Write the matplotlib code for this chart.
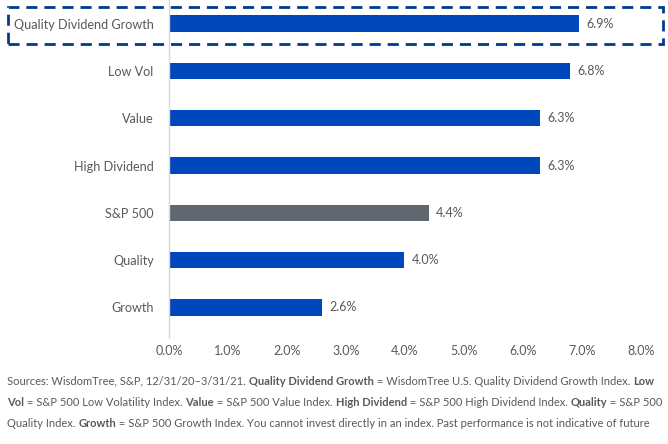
import matplotlib
matplotlib.use("Agg")
import matplotlib.pyplot as plt
from matplotlib.patches import Rectangle

categories = ["Quality Dividend Growth", "Low Vol", "Value", "High Dividend", "S&P 500", "Quality", "Growth"]
values = [6.95, 6.80, 6.29, 6.29, 4.40, 3.99, 2.59]
value_labels = ["6.9%", "6.8%", "6.3%", "6.3%", "4.4%", "4.0%", "2.6%"]
x_ticks = [0, 1, 2, 3, 4, 5, 6, 7, 8]
x_tick_labels = ["0.0%", "1.0%", "2.0%", "3.0%", "4.0%", "5.0%", "6.0%", "7.0%", "8.0%"]

BLUE = "#0047BB"
GREY_BAR = "#5F6870"
TXT = "#595959"
FONT = "Lato"

W, H = 668, 444
fig = plt.figure(figsize=(W / 100, H / 100), dpi=100)
ax = fig.add_axes([169 / W, 1 - 331 / H, (641 - 169) / W, 331 / H])

colors = [GREY_BAR if c == "S&P 500" else BLUE for c in categories]
ypos = list(range(len(categories)))
ax.barh(ypos, values, height=0.35, color=colors)
ax.set_ylim(len(categories) - 0.5, -0.5)
ax.set_xlim(0, 8)
ax.set_yticks(ypos)
ax.set_yticklabels(categories, fontsize=9.1, color=TXT, family=FONT)
ax.set_xticks(x_ticks)
ax.set_xticklabels(x_tick_labels, fontsize=9, color=TXT, family=FONT)
ax.tick_params(axis="both", length=0)
ax.tick_params(axis="y", pad=11)
ax.tick_params(axis="x", pad=10)
for s in ["top", "right", "bottom"]:
    ax.spines[s].set_visible(False)
ax.spines["left"].set_color("#D9D9D9")
ax.spines["left"].set_linewidth(1)
ax.spines["left"].set_bounds(len(categories) - 0.5 + 0.15, -0.5 - 0.5)

for y, v, lab in zip(ypos, values, value_labels):
    ax.text(v + 0.13, y, lab, va="center", ha="left", fontsize=9, color=TXT, family=FONT)

# dashed highlight box
rect = Rectangle((8 / W, 1 - 44 / H), (663 - 8) / W, 37 / H, transform=fig.transFigure,
                 fill=False, edgecolor="#003A8C", linewidth=2, linestyle=(0, (4, 2.5)),
                 clip_on=False)
fig.patches.append(rect)

# footnote with bold runs
lines = [
    [("Sources: WisdomTree, S&P, 12/31/20\u20133/31/21. ", False), ("Quality Dividend Growth", True),
     (" = WisdomTree U.S. Quality Dividend Growth Index. ", False), ("Low", True)],
    [("Vol", True), (" = S&P 500 Low Volatility Index. ", False), ("Value", True),
     (" = S&P 500 Value Index. ", False), ("High Dividend", True), (" = S&P 500 High Dividend Index. ", False),
     ("Quality", True), (" = S&P 500", False)],
    [("Quality Index. ", False), ("Growth", True),
     (" = S&P 500 Growth Index. You cannot invest directly in an index. Past performance is not indicative of future", False)],
]
line_y = [381, 402, 423]
fig.canvas.draw()
renderer = fig.canvas.get_renderer()
for runs, yy in zip(lines, line_y):
    x = 7
    for txt, bold in runs:
        t = fig.text(x / W, 1 - yy / H, txt, fontsize=8.05, color=TXT, family=FONT,
                     fontweight="bold" if bold else "normal", va="center", ha="left")
        bb = t.get_window_extent(renderer=renderer)
        x += bb.width

fig.savefig("out.png", dpi=100)
